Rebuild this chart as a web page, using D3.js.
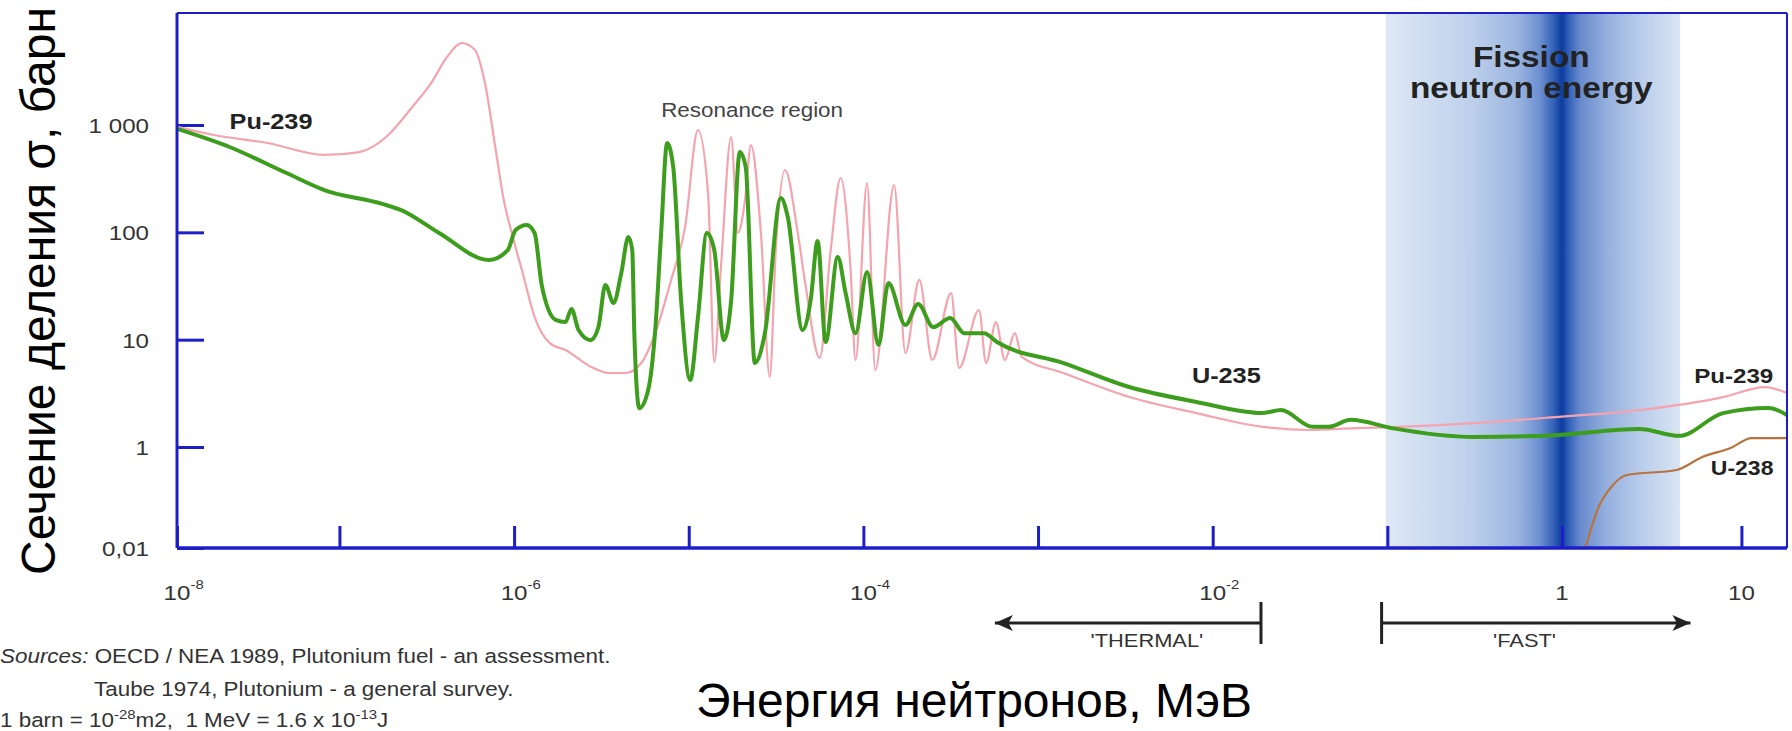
<!DOCTYPE html>
<html>
<head>
<meta charset="utf-8">
<script src="https://cdn.jsdelivr.net/npm/d3@7"></script>
<style>
  html, body { margin: 0; padding: 0; background: #fff; }
  svg { display: block; }
  text { font-family: "Liberation Sans", Arial, sans-serif; }
</style>
</head>
<body>
<svg id="chart"></svg>
<script>
// Energies in MeV, fission cross-sections in barn
const u235Energy = [1.18e-8, 2.35e-8, 4.98e-8, 8.2e-8, 1.76e-7, 2.26e-7, 3.72e-7, 7.17e-7, 9.2e-7, 1.02e-6,
    1.18e-6, 1.31e-6, 1.44e-6, 1.73e-6, 1.97e-6, 2.13e-6, 2.34e-6, 2.74e-6, 3.04e-6, 3.33e-6,
    3.71e-6, 4.11e-6, 4.51e-6, 4.75e-6, 4.88e-6, 5.21e-6, 5.86e-6, 6.43e-6, 6.95e-6, 7.52e-6,
    8.15e-6, 9.04e-6, 1.02e-5, 1.13e-5, 1.27e-5, 1.40e-5, 1.59e-5, 1.75e-5, 1.96e-5, 2.12e-5,
    2.39e-5, 2.73e-5, 3.37e-5, 3.69e-5, 4.49e-5, 4.99e-5, 5.47e-5, 6.08e-5, 7.13e-5, 7.91e-5,
    9.02e-5, 1.05e-4, 1.22e-4, 1.39e-4, 1.74e-4, 2.06e-4, 2.51e-4, 3.14e-4, 3.78e-4, 4.91e-4,
    5.82e-4, 1.40e-3, 3.33e-3, 8.05e-3, 1.94e-2, 2.46e-2, 3.74e-2, 4.61e-2, 6.17e-2, 0.106,
    0.310, 0.910, 2.70, 4.50, 7.90, 14.2, 17.9];
const u235Sigma = [920, 624, 357, 248, 184, 161, 98.6, 55.2, 68.4, 105,
    117, 98.6, 32.3, 15.3, 14.6, 19.3, 12.3, 9.9, 13.1, 32.3,
    22, 41.8, 90.5, 68.4, 11.5, 2.3, 3.4, 12.3, 98.6, 680,
    406, 23.4, 4.21, 16.3, 98.6, 68.4, 9.9, 23.4, 560, 406,
    6.06, 11.5, 209, 139, 12.3, 23.4, 83, 9.5, 58.9, 27.2,
    11.5, 42.7, 8.9, 33.7, 13.7, 21.5, 13.1, 15.9, 11.5, 11.5,
    9.5, 6.06, 3.62, 2.63, 2.07, 2.21, 1.54, 1.54, 1.79, 1.50,
    1.24, 1.29, 1.47, 1.27, 2.07, 2.31, 1.99];

const pu239Energy = [1.18e-8, 1.91e-8, 3.88e-8, 8.2e-8, 1.30e-7, 1.85e-7, 2.61e-7, 3.35e-7, 4.13e-7, 5.02e-7,
    5.97e-7, 6.81e-7, 7.85e-7, 8.73e-7, 9.7e-7, 1.12e-6, 1.31e-6, 1.60e-6, 1.97e-6, 2.77e-6,
    3.47e-6, 4.34e-6, 5.35e-6, 6.43e-6, 7.93e-6, 9.53e-6, 1.13e-5, 1.29e-5, 1.40e-5, 1.53e-5,
    1.75e-5, 1.91e-5, 2.10e-5, 2.27e-5, 2.59e-5, 2.91e-5, 3.15e-5, 3.56e-5, 4.21e-5, 4.68e-5,
    5.62e-5, 6.50e-5, 7.41e-5, 8.43e-5, 9.02e-5, 1.05e-4, 1.17e-4, 1.50e-4, 1.74e-4, 2.09e-4,
    2.48e-4, 3.18e-4, 3.53e-4, 4.59e-4, 5.04e-4, 5.74e-4, 6.46e-4, 7.36e-4, 8.07e-4, 1.40e-3,
    3.33e-3, 8.05e-3, 1.94e-2, 3.60e-2, 6.59e-2, 0.117, 0.310, 0.910, 2.70, 7.90,
    13.5, 17.9];
const pu239Sigma = [960, 807, 680, 526, 560, 773, 1470, 2460, 4300, 5810,
    5000, 2460, 585, 200, 98.6, 41.8, 16.3, 9.3, 8.0, 5.56,
    4.89, 4.89, 6.06, 11.5, 36, 112, 899, 233, 6.2, 47.5,
    773, 98.6, 200, 651, 98.6, 4.49, 68.4, 381, 98.6, 31,
    6.75, 68.4, 321, 47.5, 6.47, 288, 5.2, 276, 7.5, 36,
    6.47, 27.2, 5.45, 18.9, 6.06, 14.6, 6.47, 11.5, 6.9, 4.89,
    2.92, 2.07, 1.54, 1.44, 1.50, 1.54, 1.67, 1.90, 2.21, 2.92,
    3.62, 3.19];

const u238Energy = [1.35, 1.60, 1.88, 2.30, 4.35, 6.05, 8.70, 11.4, 17.9];
const u238Sigma = [0.01, 0.065, 0.161, 0.279, 0.351, 0.634, 0.955, 1.21, 1.21];

// axes
const xTicks = [1e-8, 1e-7, 1e-6, 1e-5, 1e-4, 1e-3, 1e-2, 1e-1, 1, 10];
const xLabelValues = [1e-8, 1e-6, 1e-4, 1e-2, 1, 10];
const xLabelBase = ['10', '10', '10', '10', '1', '10'];
const xLabelExp = ['-8', '-6', '-4', '-2', '', ''];
const yTicks = [0.01, 1, 10, 100, 1000];
const yTickLabels = ['0,01', '1', '10', '100', '1 000'];

// energy ranges
const fissionBand = [0.0977, 4.55];
const fissionPeak = 1;
const thermalRange = [5.66e-4, 0.0189];
const fastRange = [0.0927, 5.2];

// series labels: text, energy, cross-section at baseline
const seriesLabelText = ['Pu-239', 'U-235', 'Pu-239', 'U-238'];
const seriesLabelEnergy = [2.35e-8, 7.6e-3, 5.45, 6.75];
const seriesLabelSigma = [918, 3.95, 3.95, 0.279];
const seriesLabelSize = [22, 22, 21, 20];

const width = 1792, height = 731;
const plot = {left: 177, right: 1787, top: 13, bottom: 548, one: 447, oneMeV: 1562};
const STRETCH = 1.15;   // the pasted picture is a little wider than its fonts
const AXIS_BLUE = '#1e1ec8';

const svg = d3.select('#chart')
    .attr('width', width)
    .attr('height', height);

// the last decade of the original is a touch wider, so the log scale is piecewise
const x = d3.scaleLog()
    .domain([Math.pow(10, -7.93), 1, Math.pow(10, 1.254)])
    .range([plot.left, plot.oneMeV, plot.right])
    .clamp(true);

// lower decade on the original is squeezed, so the log scale is piecewise
const y = d3.scaleLog()
    .domain([0.01, 1, 11060])
    .range([plot.bottom, plot.one, plot.top]);

function addText(parent, px, py, txt, size, opts = {}) {
    return parent.append('text')
        .attr('transform', `translate(${px},${py}) scale(${opts.stretch || STRETCH},1)`)
        .attr('text-anchor', opts.anchor || 'start')
        .attr('fill', opts.fill || '#222')
        .style('font-size', size + 'px')
        .style('font-weight', opts.weight || 'normal')
        .style('font-style', opts.style || 'normal')
        .text(txt);
}

// Fission neutron energy band
const defs = svg.append('defs');
const grad = defs.append('linearGradient')
    .attr('id', 'fissionGrad')
    .attr('x1', '0%').attr('x2', '100%')
    .attr('y1', '0%').attr('y2', '0%');
const bandX0 = x(fissionBand[0]), bandX1 = x(fissionBand[1]);
const peakOff = (x(fissionPeak) - bandX0) / (bandX1 - bandX0);
const gradStops = [
    [0, '#dfe9f6'], [0.30, '#bccfeb'], [0.45, '#9ab4e0'], [peakOff - 0.075, '#6d8fd0'],
    [peakOff - 0.03, '#3563b9'], [peakOff, '#0c3c9f'], [peakOff + 0.022, '#3060b8'],
    [peakOff + 0.06, '#6689cc'], [0.75, '#94b0de'], [0.86, '#b7cbea'], [1, '#dae5f4']
];
grad.selectAll('stop')
    .data(gradStops)
    .enter()
    .append('stop')
    .attr('offset', d => d[0])
    .attr('stop-color', d => d[1]);

svg.append('rect')
    .attr('x', bandX0)
    .attr('y', plot.top)
    .attr('width', bandX1 - bandX0)
    .attr('height', plot.bottom - plot.top)
    .attr('fill', 'url(#fissionGrad)');

// X axis ticks (pointing up into the plot)
const gx = svg.append('g')
    .attr('transform', `translate(0,${plot.bottom})`)
    .call(d3.axisBottom(x).tickValues(xTicks).tickFormat('').tickSize(-22));
gx.select('.domain').remove();
gx.selectAll('.tick line').attr('stroke', AXIS_BLUE).attr('stroke-width', 3);

// X tick labels, 10 with superscript exponent
xLabelValues.forEach((v, i) => {
    const cx = x(v);
    const half = xLabelBase[i].length * 0.556 * 21 * STRETCH / 2;
    const t = addText(svg, cx - half, 600, xLabelBase[i], 21, {fill: '#333'});
    if (xLabelExp[i]) {
        t.append('tspan')
            .attr('dy', -11)
            .style('font-size', '13px')
            .text(xLabelExp[i]);
    }
});

// Y axis ticks (pointing right) and labels
const gy = svg.append('g')
    .attr('transform', `translate(${plot.left},0)`)
    .call(d3.axisLeft(y).tickValues(yTicks).tickFormat((d, i) => yTickLabels[i]).tickSize(-27).tickPadding(28));
gy.select('.domain').remove();
gy.selectAll('.tick line').attr('stroke', AXIS_BLUE).attr('stroke-width', 3);
gy.selectAll('.tick text')
    .attr('x', null)
    .attr('dy', '0.36em')
    .attr('transform', `translate(-28,0) scale(${STRETCH},1)`)
    .attr('fill', '#333')
    .style('font-size', '21px')
    .style('font-family', '"Liberation Sans", Arial, sans-serif');

// Curves
const line = d3.line()
    .x(d => x(d[0]))
    .y(d => y(d[1]))
    .curve(d3.curveMonotoneX);

svg.append('path')
    .datum(d3.zip(pu239Energy, pu239Sigma))
    .attr('d', line)
    .attr('fill', 'none')
    .attr('stroke', '#f5a3ae')
    .attr('stroke-width', 2.2);

svg.append('path')
    .datum(d3.zip(u235Energy, u235Sigma))
    .attr('d', line)
    .attr('fill', 'none')
    .attr('stroke', '#3c9e1c')
    .attr('stroke-width', 4)
    .attr('stroke-linejoin', 'round');

svg.append('path')
    .datum(d3.zip(u238Energy, u238Sigma))
    .attr('d', line)
    .attr('fill', 'none')
    .attr('stroke', '#b8743e')
    .attr('stroke-width', 2.2);

// Frame
svg.append('line')
    .attr('x1', plot.left).attr('x2', plot.right)
    .attr('y1', plot.top).attr('y2', plot.top)
    .attr('stroke', AXIS_BLUE).attr('stroke-width', 2);
svg.append('line')
    .attr('x1', plot.right).attr('x2', plot.right)
    .attr('y1', plot.top).attr('y2', plot.bottom)
    .attr('stroke', AXIS_BLUE).attr('stroke-width', 2);
svg.append('line')
    .attr('x1', plot.left).attr('x2', plot.right)
    .attr('y1', plot.bottom).attr('y2', plot.bottom)
    .attr('stroke', AXIS_BLUE).attr('stroke-width', 3.5);
svg.append('line')
    .attr('x1', plot.left).attr('x2', plot.left)
    .attr('y1', plot.top).attr('y2', plot.bottom)
    .attr('stroke', AXIS_BLUE).attr('stroke-width', 3);

// Series labels
seriesLabelText.forEach((s, i) => {
    addText(svg, x(seriesLabelEnergy[i]), y(seriesLabelSigma[i]), s, seriesLabelSize[i], {weight: 'bold'});
});

addText(svg, x(6.95e-6), y(1188), 'Resonance region', 19.5, {fill: '#444'});

const bandMid = Math.sqrt(fissionBand[0] * fissionBand[1]);
addText(svg, x(bandMid), y(3470), 'Fission', 29, {weight: 'bold', anchor: 'middle'});
addText(svg, x(bandMid), y(1786), 'neutron energy', 29, {weight: 'bold', anchor: 'middle'});

// Thermal / fast arrows
const arrowY = 623, barHalf = 21, headLen = 18, headHalf = 8;
const arrows = svg.append('g').attr('stroke', '#222').attr('fill', '#222');

function drawRange(range, headAtLeft) {
    const a = x(range[0]), b = x(range[1]);
    arrows.append('line')
        .attr('x1', a).attr('x2', b)
        .attr('y1', arrowY).attr('y2', arrowY)
        .attr('stroke-width', 3);
    const barX = headAtLeft ? b : a;
    arrows.append('line')
        .attr('x1', barX).attr('x2', barX)
        .attr('y1', arrowY - barHalf).attr('y2', arrowY + barHalf)
        .attr('stroke-width', 3);
    const tip = headAtLeft ? a : b;
    const dir = headAtLeft ? 1 : -1;
    arrows.append('path')
        .attr('stroke', 'none')
        .attr('d', `M${tip},${arrowY} L${tip + dir * headLen},${arrowY - headHalf} L${tip + dir * headLen * 0.75},${arrowY} L${tip + dir * headLen},${arrowY + headHalf} Z`);
}
drawRange(thermalRange, true);
drawRange(fastRange, false);

addText(svg, x(4.2e-3), 647, "'THERMAL'", 19, {anchor: 'middle', fill: '#333'});
addText(svg, x(0.61), 647, "'FAST'", 19, {anchor: 'middle', fill: '#333'});

// Sources note
const note = addText(svg, 0, 663, 'Sources:', 19.5, {fill: '#333', style: 'italic'});
note.append('tspan').style('font-style', 'normal').text(' OECD / NEA 1989, Plutonium fuel - an assessment.');
addText(svg, 94, 696, 'Taube 1974, Plutonium - a general survey.', 19.5, {fill: '#333'});
const units = addText(svg, 0, 727, '1 barn = 10', 19.5, {fill: '#333'});
units.append('tspan').attr('dy', -8).style('font-size', '13px').text('-28');
units.append('tspan').attr('dy', 8).text('m2,  1 MeV = 1.6 x 10');
units.append('tspan').attr('dy', -8).style('font-size', '13px').text('-13');
units.append('tspan').attr('dy', 8).text('J');
units.style('white-space', 'pre');

// Axis titles (added on the slide, not stretched)
svg.append('text')
    .attr('transform', 'translate(55,291) rotate(-90)')
    .attr('text-anchor', 'middle')
    .attr('fill', '#000')
    .style('font-size', '48px')
    .text('Сечение деления σ, барн');

svg.append('text')
    .attr('x', 974)
    .attr('y', 717)
    .attr('text-anchor', 'middle')
    .attr('fill', '#000')
    .style('font-size', '48px')
    .text('Энергия нейтронов, МэВ');
</script>
</body>
</html>
